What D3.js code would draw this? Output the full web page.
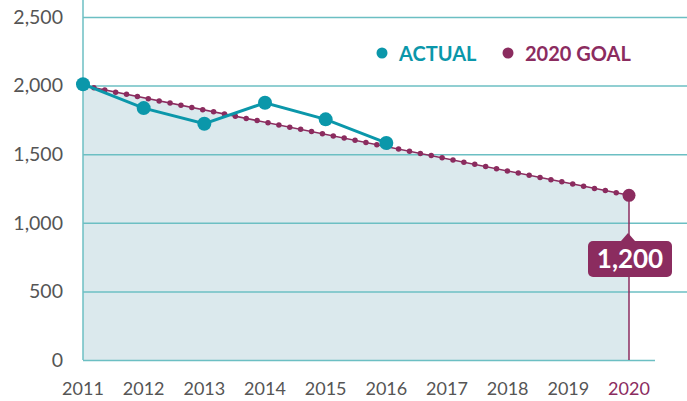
<!DOCTYPE html>
<html lang="en">
<head>
<meta charset="utf-8">
<script src="https://cdn.jsdelivr.net/npm/d3@7/dist/d3.min.js"></script>
<style>
  body { margin: 0; background: #fff; }
  text { font-family: Lato, "Open Sans", sans-serif; }
</style>
</head>
<body>
<script>
var years = [2011, 2012, 2013, 2014, 2015, 2016, 2017, 2018, 2019, 2020];
var actualYears = [2011, 2012, 2013, 2014, 2015, 2016];
var actualValues = [2010, 1836, 1722, 1875, 1754, 1582];
var goalYears = [2011, 2020];
var goalValues = [2000, 1200];
var yTicks = [0, 500, 1000, 1500, 2000, 2500];

var w = 687, h = 401;
var teal = "#0b97aa", purple = "#8b2c5f", grid = "#6cbfc3", fillCol = "#dbe9ed", textCol = "#555";

var svg = d3.select("body").append("svg").attr("width", w).attr("height", h);

var x = d3.scaleLinear().domain([2011, 2020]).range([83, 629]);
var y = d3.scaleLinear().domain([0, 2500]).range([360, 17]);

var goal = goalYears.map(function(d, i) { return {year: d, value: goalValues[i]}; });
var actual = actualYears.map(function(d, i) { return {year: d, value: actualValues[i]}; });

// area under goal line
svg.append("path")
  .attr("d", d3.area().x(function(d) { return x(d.year); }).y0(y(0)).y1(function(d) { return y(d.value); })(goal))
  .attr("fill", fillCol);

// gridlines
svg.selectAll("line.grid").data(yTicks).enter().append("line")
  .attr("class", "grid")
  .attr("x1", x(2011)).attr("x2", function(d) { return d === 0 ? 655 : w; })
  .attr("y1", function(d) { return y(d) + 0.5; }).attr("y2", function(d) { return y(d) + 0.5; })
  .attr("stroke", grid).attr("stroke-width", 1.5);

svg.append("line")
  .attr("x1", x(2011)).attr("x2", x(2011)).attr("y1", 0).attr("y2", y(0))
  .attr("stroke", grid).attr("stroke-width", 1.5);

// y labels
svg.selectAll("text.ylab").data(yTicks).enter().append("text")
  .attr("class", "ylab")
  .attr("x", 63).attr("y", function(d) { return y(d); })
  .attr("dy", "0.35em").attr("text-anchor", "end")
  .attr("font-size", 19.5).attr("fill", textCol)
  .text(d3.format(","));

// x labels
svg.selectAll("text.xlab").data(years).enter().append("text")
  .attr("class", "xlab")
  .attr("x", function(d) { return x(d); }).attr("y", 395)
  .attr("text-anchor", "middle").attr("font-size", 18)
  .attr("fill", function(d) { return d === 2020 ? purple : textCol; })
  .text(function(d) { return d; });

// vertical goal drop line
svg.append("line")
  .attr("x1", x(2020)).attr("x2", x(2020)).attr("y1", y(1200)).attr("y2", y(0))
  .attr("stroke", purple).attr("stroke-width", 1.5);

// goal line
var gLine = d3.line().x(function(d) { return x(d.year); }).y(function(d) { return y(d.value); });
svg.append("path").attr("d", gLine(goal))
  .attr("fill", "none").attr("stroke", purple).attr("stroke-width", 1.5);
svg.append("path").attr("d", gLine(goal))
  .attr("fill", "none").attr("stroke", purple).attr("stroke-width", 5.5)
  .attr("stroke-linecap", "round").attr("stroke-dasharray", "0 11.1");
svg.append("circle").attr("cx", x(2020)).attr("cy", y(1200)).attr("r", 6.5).attr("fill", purple);

// actual line
svg.append("path").attr("d", gLine(actual))
  .attr("fill", "none").attr("stroke", teal).attr("stroke-width", 3);
svg.selectAll("circle.act").data(actual).enter().append("circle")
  .attr("class", "act")
  .attr("cx", function(d) { return x(d.year); }).attr("cy", function(d) { return y(d.value); })
  .attr("r", 7).attr("fill", teal);

// callout
var cx = x(2020) - 1, cy = 259;
svg.append("path")
  .attr("d", "M" + (cx - 7) + "," + (cy - 18) + "L" + cx + "," + (cy - 26) + "L" + (cx + 7) + "," + (cy - 18) + "Z")
  .attr("fill", purple);
svg.append("rect").attr("x", cx - 40).attr("y", cy - 18).attr("width", 84).attr("height", 36)
  .attr("rx", 5).attr("fill", purple);
svg.append("text").attr("x", cx + 2).attr("y", cy).attr("dy", "0.36em")
  .attr("text-anchor", "middle").attr("font-size", 26).attr("font-weight", 700)
  .attr("fill", "#fff").text(d3.format(",")(goalValues[1]));

// legend
var legend = [{label: "ACTUAL", color: teal, x: 382}, {label: "2020 GOAL", color: purple, x: 508}];
legend.forEach(function(l) {
  svg.append("circle").attr("cx", l.x).attr("cy", 53).attr("r", 5.5).attr("fill", l.color);
  svg.append("text").attr("x", l.x + 17).attr("y", 60.5).attr("font-size", 20).attr("font-weight", 700)
    .attr("fill", l.color).text(l.label);
});
</script>
</body>
</html>
